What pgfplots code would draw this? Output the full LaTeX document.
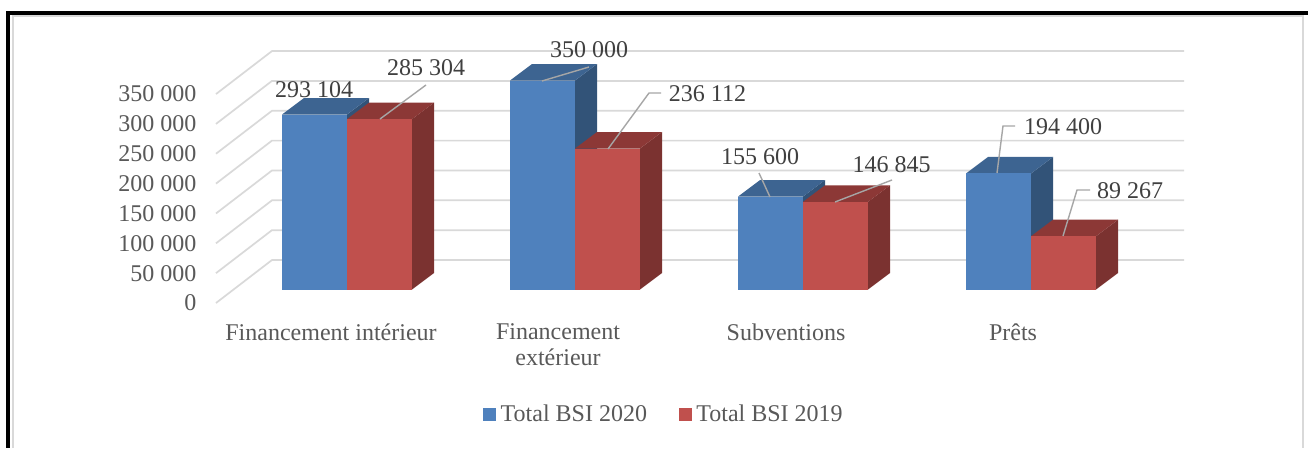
\documentclass[border=0pt]{standalone}
\usepackage{pgfplots}
\pgfplotsset{compat=1.18}
\usepackage{fontspec}
\setmainfont{Liberation Serif}
\definecolor{gridc}{HTML}{D9D9D9}
\definecolor{leadc}{HTML}{A6A6A6}
\definecolor{tickc}{HTML}{595959}
\definecolor{labc}{HTML}{404040}
\definecolor{bF}{HTML}{4F81BD}
\definecolor{bT}{HTML}{3D6491}
\definecolor{bS}{HTML}{325378}
\definecolor{rF}{HTML}{C0504D}
\definecolor{rT}{HTML}{8C3836}
\definecolor{rS}{HTML}{7B3230}
% #1 left x, #2 right x, #3 left x at back, #4 right x at back, #5 value, #6 value at back, #7 #8 #9 colours
\newcommand{\cube}[9]{%
  \addplot[fill=#9,draw=none,forget plot] coordinates {(#2,0)(#4,27638)(#4,#6)(#2,#5)};
  \addplot[fill=#8,draw=none,forget plot] coordinates {(#1,#5)(#2,#5)(#4,#6)(#3,#6)};
  \addplot[fill=#7,draw=none,forget plot] coordinates {(#1,0)(#2,0)(#2,#5)(#1,#5)};
}
\newcommand{\grid}[2]{\addplot[gridc,line width=1.7pt,forget plot] coordinates {(216,#1)(272,#2)(1184,#2)};}
\newcommand{\lead}[1]{\addplot[leadc,line width=1.4pt,forget plot] coordinates {#1};}
\begin{document}
\begin{tikzpicture}[font=\fontsize{24}{26}\selectfont]
\path[use as bounding box] (0,0) rectangle (1308pt,448pt);
\fill[white] (0,0) rectangle (1308pt,448pt);
\draw[gridc,line width=1.2pt] (13pt,0)--(13pt,432pt)--(1303pt,432pt)--(1303pt,0);
\fill[black] (6pt,0) rectangle (10pt,437pt);
\fill[black] (6pt,433pt) rectangle (1308pt,437pt);
\begin{axis}[
  at={(216pt,145pt)},anchor=south west,
  scale only axis,width=968pt,height=252pt,
  xmin=216,xmax=1184,ymin=-22613,ymax=399497,
  clip=false,
  scaled y ticks=false,
  axis line style={draw=none},
  major tick length=0pt,
  ytick={0,50000,100000,150000,200000,250000,300000,350000},
  yticklabels={0,50 000,100 000,150 000,200 000,250 000,300 000,350 000},
  yticklabel style={text=tickc,yshift=-13.5pt,xshift=-16pt,anchor=east},
  xtick={331,558,786,1013},
  xticklabels={Financement intérieur,{Financement\\extérieur},Subventions,Prêts},
  xticklabel style={text=tickc,align=center,anchor=north,yshift=-17pt},
  legend style={at={(0.4628,-0.4405)},anchor=center,draw=none,fill=none,
    legend columns=2,text=tickc,font=\fontsize{24}{26}\selectfont,
    /tikz/every odd column/.style={column sep=3pt},
    /tikz/every even column/.style={column sep=30pt}},
  legend cell align=left,
]
\grid{-22613}{49413}
\grid{27387}{99413}
\grid{77387}{149413}
\grid{127387}{199413}
\grid{177387}{249413}
\grid{227387}{299413}
\grid{277387}{349413}
\grid{327387}{399413}
\addlegendimage{legend image code/.code={\fill[bF] (0pt,-6pt) rectangle (12pt,6pt);}}
\addlegendentry{Total BSI 2020}
\addlegendimage{legend image code/.code={\fill[rF] (0pt,-6pt) rectangle (12pt,6pt);}}
\addlegendentry{Total BSI 2019}
\cube{282}{347}{304}{369}{293104}{320742}{bF}{bT}{bS}
\cube{347}{412}{369}{434}{285304}{312942}{rF}{rT}{rS}
\cube{510}{575}{532}{597}{350000}{377638}{bF}{bT}{bS}
\cube{575}{640}{597}{662}{236112}{263750}{rF}{rT}{rS}
\cube{738}{803}{760}{825}{155600}{183238}{bF}{bT}{bS}
\cube{803}{868}{825}{890}{146845}{174483}{rF}{rT}{rS}
\cube{966}{1031}{988}{1053}{194400}{222038}{bF}{bT}{bS}
\cube{1031}{1096}{1053}{1118}{89267}{116905}{rF}{rT}{rS}
\lead{(380,285594)(426,342546)}
\lead{(542,349246)(589,372696)}
\lead{(608,235343)(649,329145)(661,329145)}
\lead{(770,154941)(759,195142)}
\lead{(835,146566)(892,183417)}
\lead{(997,195142)(1003,273869)(1015,273869)}
\lead{(1063,89615)(1077,166666)(1090,166666)}
\node[text=labc] at (axis cs:314,334171) {293 104};
\node[text=labc] at (axis cs:426,371021) {285 304};
\node[text=labc] at (axis cs:589,401172) {350 000};
\node[text=labc] at (axis cs:707.5,327470) {236 112};
\node[text=labc] at (axis cs:760,221943) {155 600};
\node[text=labc] at (axis cs:891.5,208542) {146 845};
\node[text=labc] at (axis cs:1063,272194) {194 400};
\node[text=labc] at (axis cs:1130,164991) {89 267};
\end{axis}
\end{tikzpicture}
\end{document}
